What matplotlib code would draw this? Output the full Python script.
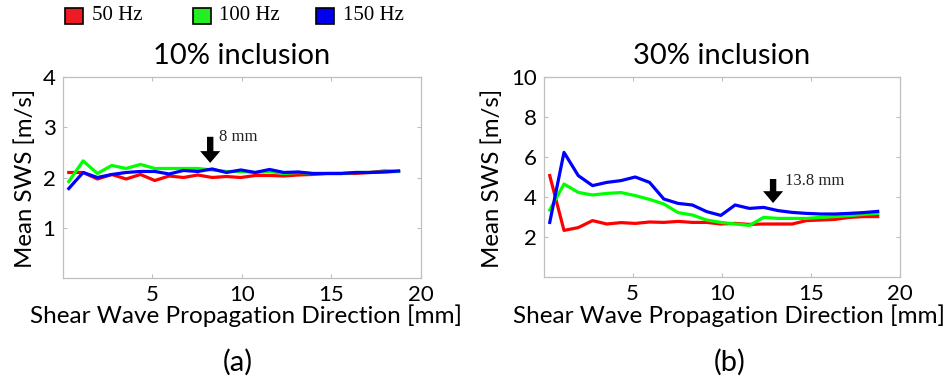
import matplotlib
matplotlib.use("Agg")
import matplotlib.pyplot as plt
from matplotlib.patches import Rectangle

# ---------------- data ----------------
x_mm = [0.35, 1.15, 1.95, 2.75, 3.55, 4.35, 5.15, 5.95, 6.75, 7.55, 8.35, 9.15,
        9.95, 10.75, 11.55, 12.35, 13.15, 13.95, 14.75, 15.55, 16.35, 17.15, 17.95, 18.75]

a_50 = [2.10, 2.10, 1.97, 2.06, 1.97, 2.06, 1.94, 2.03, 2.00, 2.05, 2.00, 2.02,
        2.00, 2.04, 2.04, 2.03, 2.05, 2.06, 2.08, 2.08, 2.08, 2.10, 2.13, 2.12]
a_100 = [1.92, 2.33, 2.08, 2.24, 2.18, 2.26, 2.18, 2.18, 2.18, 2.18, 2.15, 2.12,
         2.12, 2.10, 2.12, 2.08, 2.10, 2.08, 2.08, 2.08, 2.10, 2.10, 2.11, 2.12]
a_150 = [1.78, 2.10, 2.00, 2.06, 2.10, 2.12, 2.12, 2.07, 2.14, 2.12, 2.17, 2.10,
         2.15, 2.10, 2.16, 2.10, 2.11, 2.08, 2.08, 2.08, 2.10, 2.10, 2.11, 2.13]

b_50 = [5.07, 2.33, 2.47, 2.82, 2.65, 2.72, 2.68, 2.75, 2.73, 2.78, 2.73, 2.73,
        2.65, 2.68, 2.63, 2.65, 2.65, 2.65, 2.82, 2.85, 2.88, 2.98, 3.02, 3.02]
b_100 = [3.35, 4.65, 4.23, 4.10, 4.18, 4.22, 4.07, 3.88, 3.65, 3.22, 3.10, 2.85,
         2.73, 2.65, 2.58, 2.98, 2.93, 2.93, 2.93, 2.98, 3.02, 3.07, 3.13, 3.18]
b_150 = [2.73, 6.23, 5.07, 4.57, 4.73, 4.82, 5.00, 4.73, 3.90, 3.68, 3.60, 3.27,
         3.08, 3.60, 3.43, 3.48, 3.32, 3.23, 3.18, 3.15, 3.15, 3.18, 3.22, 3.28]

series_labels = ["50 Hz", "100 Hz", "150 Hz"]
line_colors = ["#ff0000", "#00ff00", "#0000ff"]
legend_colors = ["#ed1c24", "#22ee22", "#0000ee"]

titles = ["10% inclusion", "30% inclusion"]
panel_tags = ["(a)", "(b)"]
xlabel = "Shear Wave Propagation Direction [mm]"
ylabel = "Mean SWS [m/s]"
xticks = [5, 10, 15, 20]
yticks_a = [1, 2, 3, 4]
yticks_b = [2, 4, 6, 8, 10]

marker_a = {"label": "8 mm", "x": 8.24, "y_top": 2.81, "y_tip": 2.29, "tx": 8.74, "ty": 2.81}
marker_b = {"label": "13.8 mm", "x": 12.88, "y_top": 4.90, "y_tip": 3.70, "tx": 13.55, "ty": 4.80}

# ---------------- figure ----------------
W, H = 948, 381
fig = plt.figure(figsize=(W / 100, H / 100), dpi=100)
sans = "Lato"
serif = "Liberation Serif"
grey = "#bfbfbf"


def fx(px):
    return px / W


def fy(py):
    return 1 - py / H


ax_a = fig.add_axes([fx(62.5), fy(278), fx(421) - fx(62.5), fy(77) - fy(278)])
ax_b = fig.add_axes([fx(543.5), fy(277), fx(900) - fx(543.5), fy(77) - fy(277)])

panels = [
    (ax_a, [a_50, a_100, a_150], (0, 4), yticks_a, marker_a),
    (ax_b, [b_50, b_100, b_150], (0, 10), yticks_b, marker_b),
]

for ax, ys, ylim, yt, mk in panels:
    for y, c in zip(ys, line_colors):
        ax.plot(x_mm, y, color=c, lw=2.3, solid_joinstyle="round")
    ax.set_xlim(0, 20)
    ax.set_ylim(*ylim)
    ax.set_xticks(xticks)
    ax.set_yticks(yt)
    ax.tick_params(direction="in", length=3, width=0.8, color=grey,
                   top=True, right=True, labelsize=16, pad=5)
    ax.tick_params(axis="x", pad=5)
    for lab in ax.get_xticklabels() + ax.get_yticklabels():
        lab.set_fontfamily(sans)
    for s in ax.spines.values():
        s.set_color(grey)
        s.set_linewidth(0.9)
    ax.annotate("", xy=(mk["x"], mk["y_tip"]), xytext=(mk["x"], mk["y_top"]),
                arrowprops=dict(arrowstyle="simple,head_width=14.5,head_length=8.5,tail_width=4.6",
                                mutation_scale=1, color="black", lw=0,
                                shrinkA=0, shrinkB=0))
    ax.text(mk["tx"], mk["ty"], mk["label"], family=serif, fontsize=12,
            ha="left", va="center", color="#222222")

# titles, labels, tags
for cx, t, tag, xl_cx, yl_cx in [(242, titles[0], panel_tags[0], 246, 25),
                                 (722, titles[1], panel_tags[1], 729, 492)]:
    fig.text(fx(cx), fy(56), t, family=sans, fontsize=21, ha="center", va="center")
    fig.text(fx(xl_cx), fy(316), xlabel, family=sans, fontsize=17.5, ha="center", va="center")
    fig.text(fx(cx - 4 if tag == "(a)" else cx + 8), fy(362), tag, family=sans, fontsize=21,
             ha="center", va="center")
    fig.text(fx(yl_cx), fy(178), ylabel, family=sans, fontsize=17.3, ha="center",
             va="center", rotation=90)

# legend at top
for sq_x, tx, lab, col in zip([65, 193, 316], [92, 219, 343], series_labels, legend_colors):
    fig.add_artist(Rectangle((fx(sq_x), fy(24)), fx(18), fy(8) - fy(24), transform=fig.transFigure,
                             facecolor=col, edgecolor="black", lw=1.2))
    fig.text(fx(tx), fy(16), lab, family=serif, fontsize=15, ha="left", va="center")

fig.savefig("out.png", dpi=100)
